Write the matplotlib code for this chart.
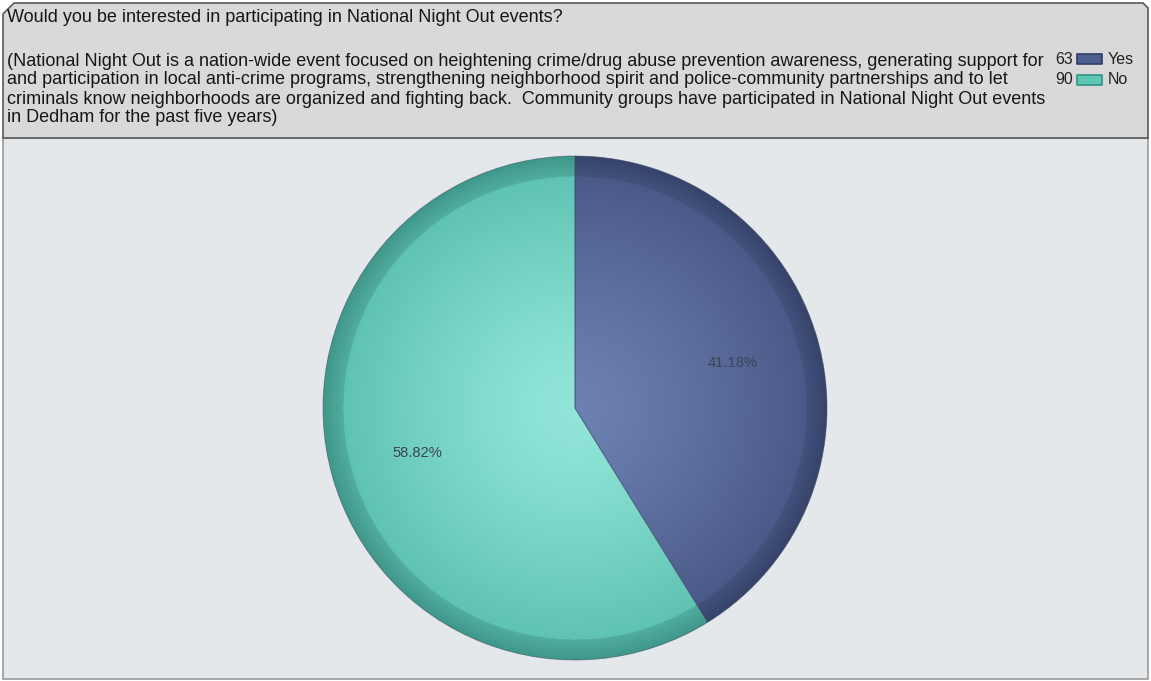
import numpy as np
import matplotlib
matplotlib.use("Agg")
import matplotlib.pyplot as plt
from matplotlib.patches import Polygon, Rectangle
from matplotlib.colors import to_rgb

labels = ["Yes", "No"]
counts = [63, 90]
title_lines = [
    "Would you be interested in participating in National Night Out events?",
    "",
    "(National Night Out is a nation-wide event focused on heightening crime/drug abuse prevention awareness, generating support for",
    "and participation in local anti-crime programs, strengthening neighborhood spirit and police-community partnerships and to let",
    "criminals know neighborhoods are organized and fighting back.  Community groups have participated in National Night Out events",
    "in Dedham for the past five years)",
]

W, H = 1151, 681
fig = plt.figure(figsize=(W / 100, H / 100), dpi=100)
fig.patch.set_facecolor("white")

# background axes in pixel coordinates
bg = fig.add_axes([0, 0, 1, 1])
bg.set_xlim(0, W)
bg.set_ylim(H, 0)
bg.axis("off")

# plot area
bg.add_patch(Rectangle((3, 138), 1145, 541, facecolor="#e5e8eb", edgecolor="#9a9a9a", lw=1.2))
# header with cut corner
hdr = Polygon([(3, 14), (14, 3), (1143, 3), (1148, 8), (1148, 138), (3, 138)],
              closed=True, facecolor="#d9d9d9", edgecolor="#5a5a5a", lw=1.2)
bg.add_patch(hdr)

font = "Liberation Sans"
ys = [17, 0, 62, 80, 99, 117]
for line, y in zip(title_lines, ys):
    if line:
        bg.text(7, y, line, fontsize=12.95, family=font, va="center", ha="left", color="#161616")

# legend
leg_cols = ["#4e5f8f", "#5fc6b4"]
leg_edges = ["#2f3d66", "#2f9484"]
for i, (lab, c) in enumerate(zip(labels, counts)):
    y = 59 + i * 21
    bg.add_patch(Rectangle((1077, y - 5), 25, 10, facecolor=leg_cols[i], edgecolor=leg_edges[i], lw=1.2,
                           joinstyle="round", zorder=3))
    bg.text(1073, y, str(c), fontsize=11.5, family=font, va="center", ha="right", color="#222222", zorder=4)
    bg.text(1108, y, lab, fontsize=11.5, family=font, va="center", ha="left", color="#222222", zorder=4)

# pie
cx, cy, R = 575, 408, 252
ax = fig.add_axes([(cx - R) / W, (H - cy - R) / H, 2 * R / W, 2 * R / H])
ax.axis("off")

wedges, texts, autotexts = ax.pie(
    counts, startangle=90, counterclock=False, radius=1.0,
    colors=leg_cols, autopct=lambda p: f"{p:.2f}%", pctdistance=0.65,
    wedgeprops=dict(edgecolor="none", linewidth=0),
    textprops=dict(fontsize=10.6, family=font, color="#3c4456"),
)
ax.set_xlim(-1, 1)
ax.set_ylim(-1, 1)
ax.set_aspect("equal")

# radial shading
n = 700
xs = np.linspace(-1, 1, n)
X, Y = np.meshgrid(xs, xs)
Rr = np.sqrt(X ** 2 + Y ** 2)
ring_in = 0.92

shades = [
    dict(center="#6c80b2", outer="#4a5a88", ring_in="#43527c", ring_out="#36446a"),
    dict(center="#92e6d9", outer="#5fc3b3", ring_in="#52ad9f", ring_out="#3f978a"),
]
for w, s in zip(wedges, shades):
    c0, c1 = np.array(to_rgb(s["center"])), np.array(to_rgb(s["outer"]))
    r0, r1 = np.array(to_rgb(s["ring_in"])), np.array(to_rgb(s["ring_out"]))
    t = np.clip(Rr / ring_in, 0, 1)[..., None]
    inner = c0 + (c1 - c0) * t ** 1.3
    tr = np.clip((Rr - ring_in) / (1 - ring_in), 0, 1)[..., None]
    ring = r0 + (r1 - r0) * tr
    img = np.where((Rr < ring_in)[..., None], inner, ring)
    im = ax.imshow(img, extent=(-1, 1, -1, 1), origin="lower", zorder=1.5, interpolation="bilinear")
    im.set_clip_path(w)
ax.set_xlim(-1, 1)
ax.set_ylim(-1, 1)

# thin separators / outline
for w in wedges:
    w.set_zorder(2)
    w.set_facecolor("none")
    w.set_edgecolor("#3a4a6a")
    w.set_linewidth(0.6)
    w.set_alpha(0.6)
for t in autotexts:
    t.set_zorder(3)

fig.savefig("out.png", dpi=100)
